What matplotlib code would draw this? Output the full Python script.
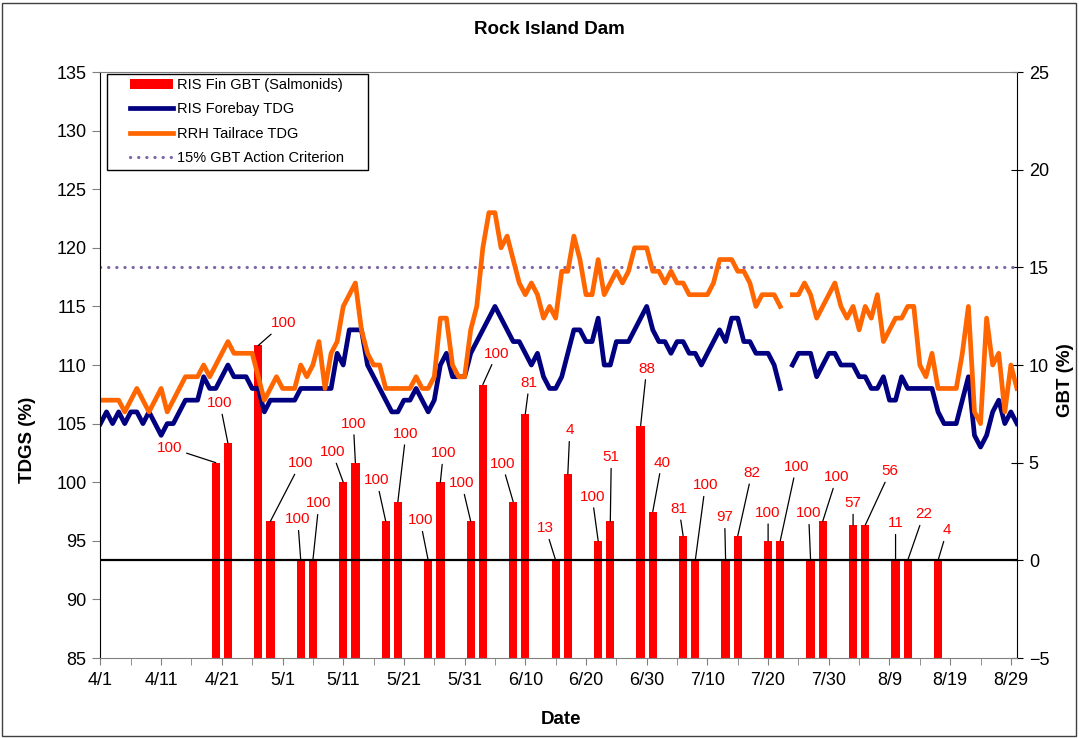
import numpy as np
import pandas as pd
import matplotlib
matplotlib.use('Agg')
import matplotlib.pyplot as plt
from matplotlib.patches import Rectangle

plt.rcParams['font.family'] = ['Liberation Sans', 'DejaVu Sans']

# daily TDG (%) from 4/1 to 8/30
start = pd.Timestamp('2011-04-01')
days = pd.date_range(start, periods=152, freq='D')

forebay = [105, 106, 105, 106, 105, 106, 106, 105, 106, 105,
           104, 105, 105, 106, 107, 107, 107, 109, 108, 108,
           109, 110, 109, 109, 109, 108, 108, 106, 107, 107,
           107, 107, 107, 108, 108, 108, 108, 108, 108, 111,
           110, 113, 113, 113, 110, 109, 108, 107, 106, 106,
           107, 107, 108, 107, 106, 107, 110, 111, 109, 109,
           109, 111, 112, 113, 114, 115, 114, 113, 112, 112,
           111, 110, 111, 109, 108, 108, 109, 111, 113, 113,
           112, 112, 114, 110, 110, 112, 112, 112, 113, 114,
           115, 113, 112, 112, 111, 112, 112, 111, 111, 110,
           111, 112, 113, 112, 114, 114, 112, 112, 111, 111,
           111, 110, 108, np.nan, 110, 111, 111, 111, 109, 110,
           111, 111, 110, 110, 110, 109, 109, 108, 108, 109,
           107, 107, 109, 108, 108, 108, 108, 108, 106, 105,
           105, 105, 107, 109, 104, 103, 104, 106, 107, 105, 106, 105]

tailrace = [107, 107, 107, 107, 106, 107, 108, 107, 106, 107,
            108, 106, 107, 108, 109, 109, 109, 110, 109, 110,
            111, 112, 111, 111, 111, 111, 109, 107, 108, 109,
            108, 108, 108, 110, 109, 110, 112, 108, 111, 112,
            115, 116, 117, 113, 111, 110, 110, 108, 108, 108,
            108, 108, 109, 108, 108, 109, 114, 114, 110, 109,
            109, 113, 115, 120, 123, 123, 120, 121, 119, 117,
            116, 117, 116, 114, 115, 114, 118, 118, 121, 119,
            116, 116, 119, 116, 117, 118, 117, 118, 120, 120,
            120, 118, 118, 117, 118, 117, 117, 116, 116, 116,
            116, 117, 119, 119, 119, 118, 118, 117, 115, 116,
            116, 116, 115, np.nan, 116, 116, 117, 116, 114, 115,
            116, 117, 115, 114, 115, 113, 115, 114, 116, 112,
            113, 114, 114, 115, 115, 110, 109, 111, 108, 108,
            108, 108, 111, 115, 106, 105, 114, 110, 111, 106, 110, 108]

# fin GBT sampling: prevalence (%) and percent of fish examined (labels)
bar_dates = ['4/20', '4/22', '4/27', '4/29', '5/4', '5/6', '5/11', '5/13', '5/18', '5/20',
             '5/25', '5/27', '6/1', '6/3', '6/8', '6/10', '6/15', '6/17', '6/22', '6/24',
             '6/29', '7/1', '7/6', '7/8', '7/13', '7/15', '7/20', '7/22', '7/27', '7/29',
             '8/3', '8/5', '8/10', '8/12', '8/17']
gbt = [5, 6, 11, 2, 0, 0, 4, 5, 2, 3,
       0, 4, 2, 9, 3, 7.5, 0, 4.4, 1, 2,
       6.9, 2.5, 1.25, 0, 0, 1.25, 1, 1, 0, 2,
       1.8, 1.8, 0, 0, 0]
pct_labels = [100, 100, 100, 100, 100, 100, 100, 100, 100, 100,
              100, 100, 100, 100, 100, 81, 13, 4, 100, 51,
              88, 40, 81, 100, 97, 82, 100, 100, 100, 100,
              57, 56, 11, 22, 4]

tick_labels = ['4/1', '4/11', '4/21', '5/1', '5/11', '5/21', '5/31', '6/10',
               '6/20', '6/30', '7/10', '7/20', '7/30', '8/9', '8/19', '8/29']
criterion = 15

# label placement (pixels from bar top)
label_offsets = [(-46, 15), (-8, 40), (25, 22), (30, 58), (-3, 41), (6, 57), (-11, 30),
                 (-2, 39), (-9, 41), (8, 68), (-8, 40), (3, 29), (-9, 38), (14, 31),
                 (-11, 38), (4, 31), (-10, 32), (2, 44), (-6, 44), (1, 64), (6, 57),
                 (9, 49), (-4, 27), (10, 75), (-1, 43), (14, 63), (0, 28), (16, 74),
                 (-2, 47), (14, 44), (0, 22), (25, 54), (0, 37), (16, 46), (9, 30)]

bar_x = pd.to_datetime(['2011/' + s for s in bar_dates], format='%Y/%m/%d')
tick_x = pd.to_datetime(['2011/' + s for s in tick_labels], format='%Y/%m/%d')

fig = plt.figure(figsize=(10.79, 7.38), dpi=100)
ax = fig.add_axes([0.0931, 0.1084, 0.8494, 0.794])
ax2 = ax.twinx()
ax.set_zorder(2)
ax2.set_zorder(1)
ax.patch.set_visible(False)

bars = ax2.bar(bar_x, np.array(gbt) + 5, bottom=-5, width=1.37, color='#FF0000',
               label='RIS Fin GBT (Salmonids)')
ax2.axhline(0, color='black', lw=1.6)
crit = ax2.axhline(criterion, color='#7F66A6', lw=2.3, linestyle=(0, (0.05, 2.5)),
                   dash_capstyle='round', label='15% GBT Action Criterion')

for x, g, lab, off in zip(bar_x, gbt, pct_labels, label_offsets):
    ax2.annotate(str(lab), xy=(x, g), xytext=off, textcoords='offset pixels',
                 ha='center', va='center', color='#FF0000', fontsize=11,
                 arrowprops=dict(arrowstyle='-', color='black', lw=0.9,
                                 shrinkA=1, shrinkB=0))

l1, = ax.plot(days, forebay, color='#000080', lw=3.4, label='RIS Forebay TDG')
l2, = ax.plot(days, tailrace, color='#FF6600', lw=3.4, label='RRH Tailrace TDG')

ax.set_xlim(start, start + pd.Timedelta(days=151))
ax.set_ylim(85, 135)
ax.set_yticks(np.arange(85, 136, 5))
ax2.set_ylim(-5, 25)
ax2.set_yticks(np.arange(-5, 26, 5))
ax.set_xticks(tick_x)
ax.set_xticklabels(tick_labels)
ax.set_xticks(tick_x[:-1] + pd.Timedelta(days=5), minor=True)

ax.tick_params(axis='x', which='both', direction='out', length=5, color='#808080',
               labelsize=13, pad=5)
ax.tick_params(axis='y', direction='out', length=6, color='#808080', labelsize=13, pad=4)
ax2.tick_params(axis='y', direction='inout', length=9, color='black', labelsize=13, pad=4)

for s in ['top', 'bottom']:
    ax.spines[s].set_color('#808080')
ax.spines['left'].set_color('black')
ax.spines['right'].set_visible(False)
for s in ['top', 'bottom', 'left']:
    ax2.spines[s].set_visible(False)
ax2.spines['right'].set_color('black')

# legend box drawn separately so the entries can sit inset like the original
ax.add_patch(Rectangle((0.0068, 0.8328), 0.2851, 0.1638, transform=ax.transAxes,
                       facecolor='white', edgecolor='black', lw=1.0, zorder=4))
leg = ax.legend([bars, l1, l2, crit],
                ['RIS Fin GBT (Salmonids)', 'RIS Forebay TDG', 'RRH Tailrace TDG',
                 '15% GBT Action Criterion'],
                loc='upper left', bbox_to_anchor=(0.0322, 0.990),
                borderaxespad=0, borderpad=0, fontsize=10.5, handlelength=2.95,
                handletextpad=0.28, labelspacing=0.72, frameon=False)
leg.set_zorder(5)

fig.text(549 / 1079, 1 - 30 / 738, 'Rock Island Dam', ha='center', va='center',
         fontsize=13.5, fontweight='bold')
fig.text(28 / 1079, 1 - 440 / 738, 'TDGS (%)', ha='center', va='center', rotation=90,
         fontsize=13.5, fontweight='bold')
fig.text(1066 / 1079, 1 - 380 / 738, 'GBT (%)', ha='center', va='center', rotation=90,
         fontsize=13.5, fontweight='bold')
fig.text(561 / 1079, 1 - 720 / 738, 'Date', ha='center', va='center',
         fontsize=13.5, fontweight='bold')

fig.patches.append(Rectangle((0.002, 0.003), 0.995, 0.993, transform=fig.transFigure,
                             fill=False, edgecolor='#404040', lw=1))

fig.savefig('out.png', dpi=100)
